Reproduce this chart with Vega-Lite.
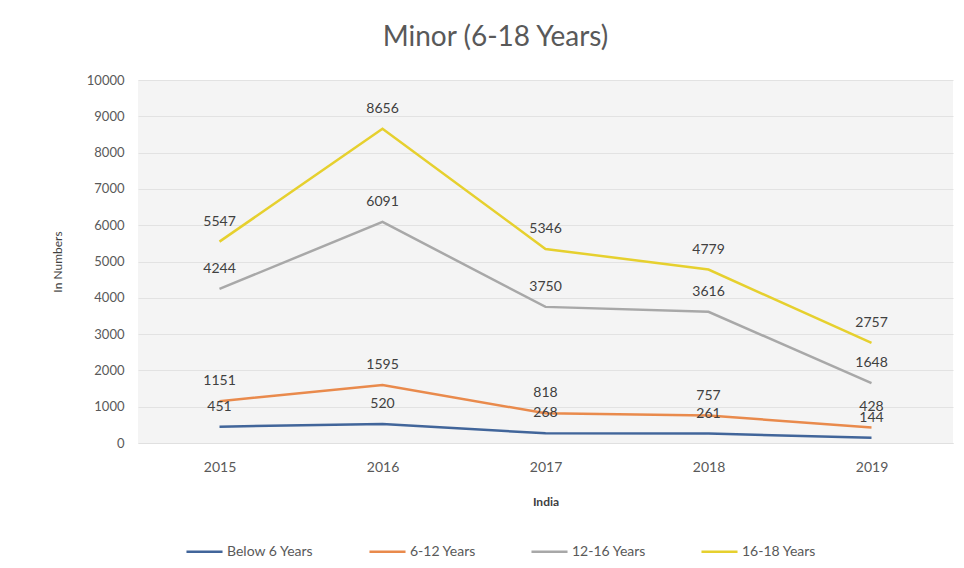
{
  "$schema": "https://vega.github.io/schema/vega-lite/v6.json",
  "width": 815,
  "height": 363,
  "autosize": {"type": "none"},
  "padding": {"left": 138, "top": 80, "right": 11, "bottom": 125},
  "background": "white",
  "config": {
    "font": "Lato",
    "view": {"fill": "#f4f4f4", "stroke": null},
    "axis": {"labelColor": "#595959", "titleColor": "#404040", "labelFont": "Lato", "titleFont": "Lato"}
  },
  "title": {
    "text": "Minor (6-18 Years)",
    "fontSize": 28,
    "fontWeight": "normal",
    "color": "#595959",
    "font": "Lato",
    "anchor": "middle",
    "dx": -50,
    "offset": 22
  },
  "data": {
    "values": [
      {"year": "2015", "group": "Below 6 Years", "value": 451},
      {"year": "2016", "group": "Below 6 Years", "value": 520},
      {"year": "2017", "group": "Below 6 Years", "value": 268},
      {"year": "2018", "group": "Below 6 Years", "value": 261},
      {"year": "2019", "group": "Below 6 Years", "value": 144},
      {"year": "2015", "group": "6-12 Years", "value": 1151},
      {"year": "2016", "group": "6-12 Years", "value": 1595},
      {"year": "2017", "group": "6-12 Years", "value": 818},
      {"year": "2018", "group": "6-12 Years", "value": 757},
      {"year": "2019", "group": "6-12 Years", "value": 428},
      {"year": "2015", "group": "12-16 Years", "value": 4244},
      {"year": "2016", "group": "12-16 Years", "value": 6091},
      {"year": "2017", "group": "12-16 Years", "value": 3750},
      {"year": "2018", "group": "12-16 Years", "value": 3616},
      {"year": "2019", "group": "12-16 Years", "value": 1648},
      {"year": "2015", "group": "16-18 Years", "value": 5547},
      {"year": "2016", "group": "16-18 Years", "value": 8656},
      {"year": "2017", "group": "16-18 Years", "value": 5346},
      {"year": "2018", "group": "16-18 Years", "value": 4779},
      {"year": "2019", "group": "16-18 Years", "value": 2757}
    ]
  },
  "encoding": {
    "x": {
      "field": "year",
      "type": "ordinal",
      "scale": {"type": "point", "padding": 0.5},
      "axis": {
        "title": "India",
        "titleFontSize": 12,
        "titleFontWeight": "bold",
        "titlePadding": 22,
        "labelAngle": 0,
        "labelFontSize": 14,
        "labelPadding": 17,
        "ticks": false,
        "domain": true,
        "domainColor": "#e0e0e0",
        "grid": false
      }
    },
    "y": {
      "field": "value",
      "type": "quantitative",
      "scale": {"domain": [0, 10000], "nice": false},
      "axis": {
        "title": "In Numbers",
        "titleFontSize": 12,
        "titleFontWeight": "normal",
        "titlePadding": 22,
        "format": "d",
        "values": [0, 1000, 2000, 3000, 4000, 5000, 6000, 7000, 8000, 9000, 10000],
        "labelFontSize": 13,
        "labelPadding": 14,
        "ticks": false,
        "domain": false,
        "grid": true,
        "gridColor": "#e2e2e2"
      }
    },
    "color": {
      "field": "group",
      "type": "nominal",
      "sort": ["Below 6 Years", "6-12 Years", "12-16 Years", "16-18 Years"],
      "scale": {
        "domain": ["Below 6 Years", "6-12 Years", "12-16 Years", "16-18 Years"],
        "range": ["#41659A", "#E98A4C", "#A8A8A8", "#E6D02E"]
      },
      "legend": {
        "title": null,
        "orient": "none",
        "direction": "horizontal",
        "legendX": 47,
        "legendY": 452,
        "symbolType": "stroke",
        "symbolSize": 1300,
        "symbolStrokeWidth": 2.5,
        "labelFontSize": 14,
        "labelColor": "#595959",
        "labelOffset": 3,
        "columnPadding": 50
      }
    }
  },
  "layer": [
    {"mark": {"type": "line", "strokeWidth": 2.5}},
    {
      "mark": {"type": "text", "dy": -20, "fontSize": 14, "color": "#404040"},
      "encoding": {
        "text": {"field": "value", "type": "quantitative", "format": "d"},
        "color": {"value": "#404040"}
      }
    }
  ]
}
